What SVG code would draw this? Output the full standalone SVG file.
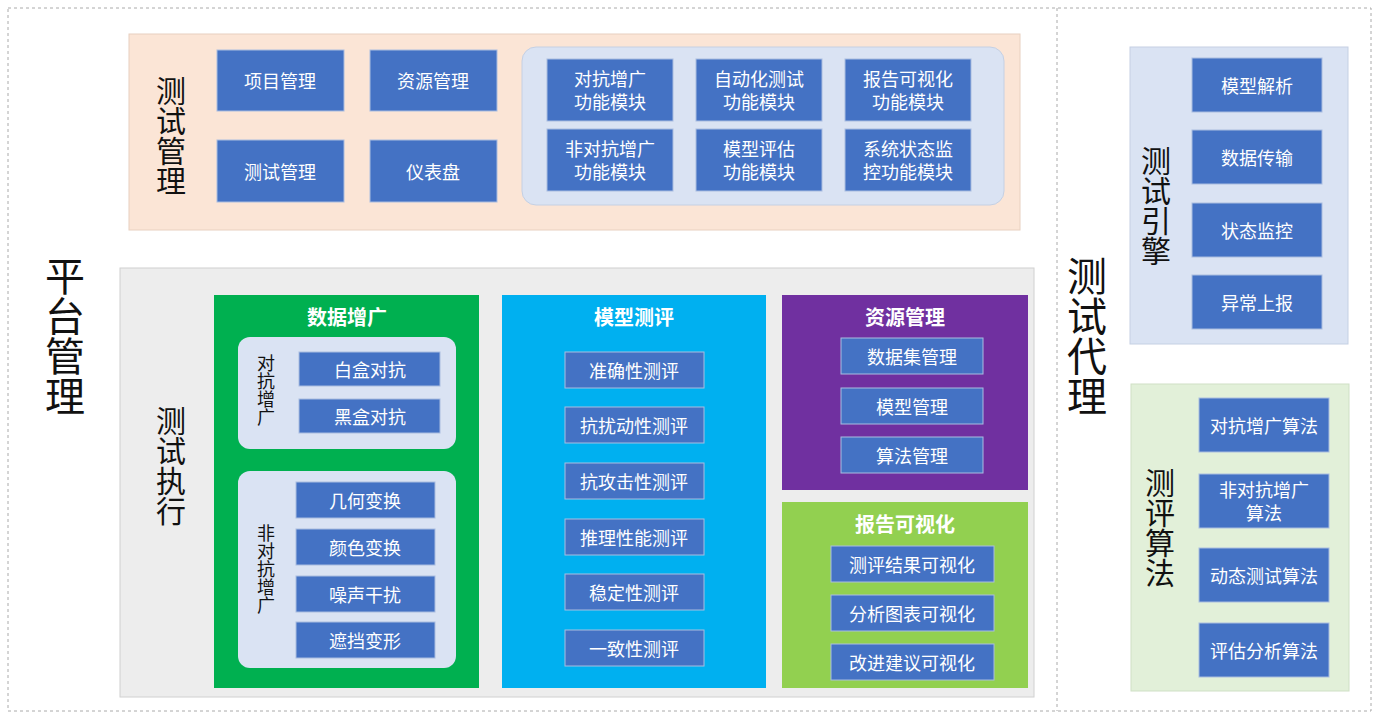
<svg xmlns="http://www.w3.org/2000/svg" width="1379" height="718" viewBox="0 0 1379 718">
<style>
text{font-family:"Noto Sans CJK SC","Liberation Sans",sans-serif;}
.b{fill:#4472c4;stroke:#a9bde0;stroke-width:1}
.bt{fill:#fff;font-size:18px;text-anchor:middle;dominant-baseline:central}
.tt{fill:#fff;font-size:20px;font-weight:bold;text-anchor:middle;dominant-baseline:central}
.v{fill:#111;writing-mode:vertical-rl;text-anchor:start;glyph-orientation-vertical:0}
</style>
<rect width="1379" height="718" fill="#fff"/>
<rect x="8" y="8" width="1363" height="703" fill="none" stroke="#aaa" stroke-dasharray="3,3"/>
<line x1="1057" y1="8" x2="1057" y2="711" stroke="#aaa" stroke-dasharray="3,3"/>
<g id="platform"><text class="v" font-size="40" x="65" y="256">平台管理</text></g>
<g id="agent"><text class="v" font-size="40" x="1087" y="256">测试代理</text></g>
<g id="test-mgmt">
<rect x="129" y="34" width="891" height="196" fill="#fbe5d6" stroke="#e8d0c0"/>
<text class="v" font-size="30" x="171" y="76">测试管理</text>
<rect class="b" x="217" y="50" width="127" height="61"/><text class="bt" x="280" y="80">项目管理</text>
<rect class="b" x="370" y="50" width="127" height="61"/><text class="bt" x="433" y="80">资源管理</text>
<rect class="b" x="217" y="140" width="127" height="62"/><text class="bt" x="280" y="171">测试管理</text>
<rect class="b" x="370" y="140" width="127" height="62"/><text class="bt" x="433" y="171">仪表盘</text>
<rect x="522" y="47" width="482" height="158" rx="14" fill="#dae3f3" stroke="#c5d0e3"/>
<rect class="b" x="547" y="59" width="126" height="62"/><text class="bt" x="610" y="78">对抗增广</text><text class="bt" x="610" y="101">功能模块</text>
<rect class="b" x="696" y="59" width="126" height="62"/><text class="bt" x="759" y="78">自动化测试</text><text class="bt" x="759" y="101">功能模块</text>
<rect class="b" x="845" y="59" width="126" height="62"/><text class="bt" x="908" y="78">报告可视化</text><text class="bt" x="908" y="101">功能模块</text>
<rect class="b" x="547" y="129" width="126" height="62"/><text class="bt" x="610" y="148">非对抗增广</text><text class="bt" x="610" y="171">功能模块</text>
<rect class="b" x="696" y="129" width="126" height="62"/><text class="bt" x="759" y="148">模型评估</text><text class="bt" x="759" y="171">功能模块</text>
<rect class="b" x="845" y="129" width="126" height="62"/><text class="bt" x="908" y="148">系统状态监</text><text class="bt" x="908" y="171">控功能模块</text>
</g>
<g id="test-exec">
<rect x="120" y="268" width="914" height="429" fill="#ededed" stroke="#d0d0d0"/>
<text class="v" font-size="30" x="171" y="406">测试执行</text>
<g id="aug">
<rect x="214" y="295" width="265" height="393" fill="#00b050"/>
<text class="tt" x="347" y="316">数据增广</text>
<rect x="238" y="337" width="218" height="112" rx="12" fill="#dae3f3"/>
<text class="v" font-size="18" x="266" y="354">对抗增广</text>
<rect class="b" x="299" y="352" width="141" height="34"/><text class="bt" x="370" y="369">白盒对抗</text>
<rect class="b" x="299" y="399" width="141" height="34"/><text class="bt" x="370" y="416">黑盒对抗</text>
<rect x="238" y="471" width="218" height="197" rx="12" fill="#dae3f3"/>
<text class="v" font-size="18" x="266" y="524">非对抗增广</text>
<rect class="b" x="296" y="482" width="139" height="36"/><text class="bt" x="365" y="500">几何变换</text>
<rect class="b" x="296" y="529" width="139" height="36"/><text class="bt" x="365" y="547">颜色变换</text>
<rect class="b" x="296" y="576" width="139" height="36"/><text class="bt" x="365" y="594">噪声干扰</text>
<rect class="b" x="296" y="622" width="139" height="36"/><text class="bt" x="365" y="640">遮挡变形</text>
</g>
<g id="eval">
<rect x="502" y="295" width="264" height="393" fill="#00b0f0"/>
<text class="tt" x="634" y="316">模型测评</text>
<rect class="b" x="565" y="352" width="139" height="36"/><text class="bt" x="634" y="370">准确性测评</text>
<rect class="b" x="565" y="407" width="139" height="36"/><text class="bt" x="634" y="425">抗扰动性测评</text>
<rect class="b" x="565" y="463" width="139" height="36"/><text class="bt" x="634" y="481">抗攻击性测评</text>
<rect class="b" x="565" y="519" width="139" height="36"/><text class="bt" x="634" y="537">推理性能测评</text>
<rect class="b" x="565" y="574" width="139" height="36"/><text class="bt" x="634" y="592">稳定性测评</text>
<rect class="b" x="565" y="630" width="139" height="36"/><text class="bt" x="634" y="648">一致性测评</text>
</g>
<g id="res">
<rect x="782" y="295" width="246" height="195" fill="#7030a0"/>
<text class="tt" x="905" y="316">资源管理</text>
<rect class="b" x="841" y="338" width="142" height="36"/><text class="bt" x="912" y="356">数据集管理</text>
<rect class="b" x="841" y="388" width="142" height="36"/><text class="bt" x="912" y="406">模型管理</text>
<rect class="b" x="841" y="437" width="142" height="36"/><text class="bt" x="912" y="455">算法管理</text>
</g>
<g id="report">
<rect x="782" y="502" width="246" height="186" fill="#92d050"/>
<text class="tt" x="905" y="523">报告可视化</text>
<rect class="b" x="831" y="546" width="163" height="36"/><text class="bt" x="912" y="564">测评结果可视化</text>
<rect class="b" x="831" y="595" width="163" height="36"/><text class="bt" x="912" y="613">分析图表可视化</text>
<rect class="b" x="831" y="644" width="163" height="36"/><text class="bt" x="912" y="662">改进建议可视化</text>
</g>
</g>
<g id="engine">
<rect x="1130" y="47" width="218" height="297" fill="#dae3f3" stroke="#c5d0e3"/>
<text class="v" font-size="30" x="1156" y="146">测试引擎</text>
<rect class="b" x="1192" y="58" width="130" height="54"/><text class="bt" x="1257" y="85">模型解析</text>
<rect class="b" x="1192" y="130" width="130" height="54"/><text class="bt" x="1257" y="157">数据传输</text>
<rect class="b" x="1192" y="203" width="130" height="54"/><text class="bt" x="1257" y="230">状态监控</text>
<rect class="b" x="1192" y="275" width="130" height="54"/><text class="bt" x="1257" y="302">异常上报</text>
</g>
<g id="algo">
<rect x="1131" y="384" width="218" height="307" fill="#e2f0d9" stroke="#cfe0c5"/>
<text class="v" font-size="30" x="1160" y="468">测评算法</text>
<rect class="b" x="1199" y="398" width="130" height="54"/><text class="bt" x="1264" y="425">对抗增广算法</text>
<rect class="b" x="1199" y="474" width="130" height="54"/><text class="bt" x="1264" y="489">非对抗增广</text><text class="bt" x="1264" y="512">算法</text>
<rect class="b" x="1199" y="548" width="130" height="54"/><text class="bt" x="1264" y="575">动态测试算法</text>
<rect class="b" x="1199" y="623" width="130" height="54"/><text class="bt" x="1264" y="650">评估分析算法</text>
</g>
<g id="connectors"></g>
</svg>
